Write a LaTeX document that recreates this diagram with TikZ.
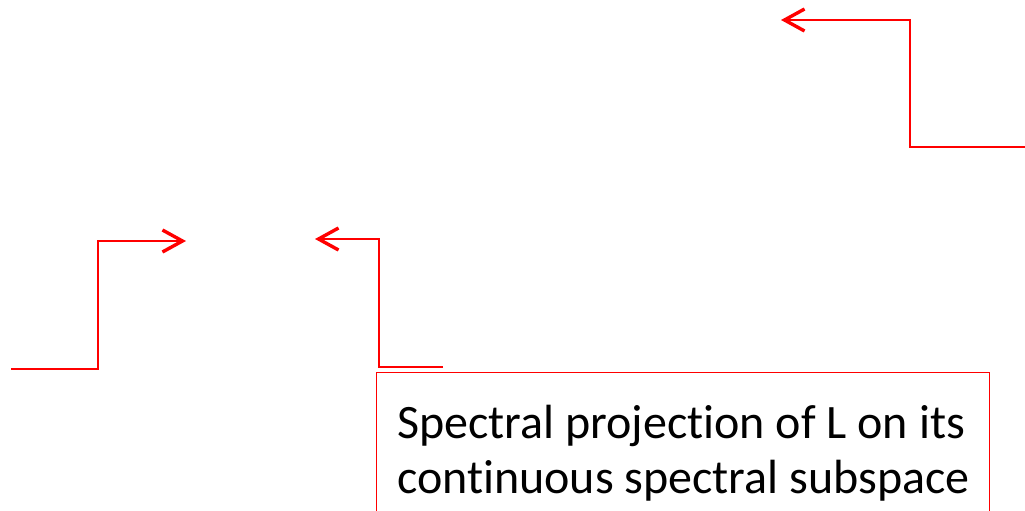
\documentclass[tikz,border=0pt]{standalone}
\usepackage{fontspec}
\setmainfont{Carlito}[Ligatures=CommonOff]
\usetikzlibrary{arrows.meta}
\tikzset{
  conn/.style={draw=red, line width=2.2pt, -{Straight Barb[length=20pt,width=22pt,line width=3.4pt]}},
  boxstyle/.style={draw=red, line width=1pt, inner sep=0pt, anchor=north west},
  label/.style={anchor=base west, inner sep=0pt, align=left, font=\fontsize{48}{55}\selectfont}
}
\begin{document}
\begin{tikzpicture}[x=1pt,y=-1pt]
\useasboundingbox (0,0) rectangle (1025,511);
\clip (0,0) rectangle (1025,511);
% coordinates
\coordinate (a1s) at (1025,147);
\coordinate (a1t) at (781,20);
\coordinate (a2s) at (11,369);
\coordinate (a2t) at (186,241);
\coordinate (a3s) at (443,367);
\coordinate (a3t) at (315,239);
% connectors
\draw[conn] (a1s) -- ++(-115,0) |- (a1t);
\draw[conn] (a2s) -- ++(87,0) |- (a2t);
\draw[conn] (a3s) -- ++(-64,0) |- (a3t);
% box
\node[boxstyle, minimum width=613pt, minimum height=200pt] (box) at (376,372) {};
\node[label] (txt) at (397,493) {Spectral projection of L on its\\continuous spectral subspace};
\end{tikzpicture}
\end{document}
